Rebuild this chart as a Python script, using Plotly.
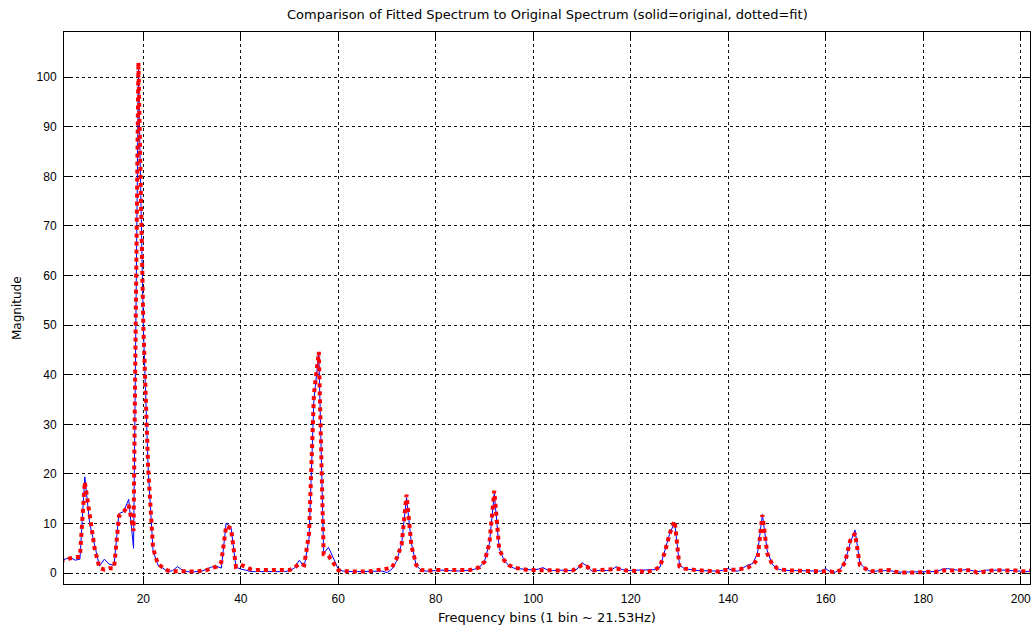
import plotly.graph_objects as go

bins = list(range(3, 203))

original = [
    2.6, 2.8, 3.2, 2.6, 2.8, 19.4, 10, 5.5, 1.4, 2.8,          # 3-12
    1.8, 1.6, 12, 12.4, 14.9, 5, 101.5, 50, 21, 4.5,          # 13-22
    1.6, 1.0, 0.3, 0.5, 1.3, 0.6, 0.3, 0.2, 0.3, 0.4,         # 23-32
    0.8, 1.2, 1.4, 1.0, 10.1, 9.2, 1.2, 0.8, 0.6, 0.3,        # 33-42
    0.3, 0.3, 0.4, 0.3, 0.4, 0.4, 0.3, 0.5, 1.0, 2.6,         # 43-52
    1.2, 7, 35, 44.2, 4, 5.2, 3.0, 0.8, 0.4, 0.3,             # 53-62
    0.3, 0.3, 0.3, 0.3, 0.3, 0.4, 0.4, 0.1, 0.8, 2.5,         # 63-72
    6, 15.2, 6, 1.5, 0.6, 0.4, 0.4, 0.5, 0.6, 0.6,            # 73-82
    0.5, 0.4, 0.4, 0.5, 0.6, 0.8, 1.2, 2.4, 6, 16,            # 83-92
    5, 2.6, 1.5, 1.0, 0.9, 0.8, 0.6, 0.6, 0.8, 1.1,           # 93-102
    0.6, 0.5, 0.6, 0.6, 0.6, 0.5, 0.8, 2.1, 1.4, 0.4,         # 103-112
    0.5, 0.6, 0.5, 0.6, 1.3, 0.8, 0.5, 0.6, 0.6, 0.6,         # 113-122
    0.6, 0.6, 0.7, 1.2, 4.5, 8, 10.2, 1.6, 0.9, 0.7,          # 123-132
    0.6, 0.5, 0.5, 0.5, 0.5, 0.4, 0.6, 0.9, 0.5, 0.4,         # 133-142
    1.0, 1.6, 1.9, 4, 11.8, 4.5, 1.8, 0.9, 0.6, 0.5,          # 143-152
    0.5, 0.5, 0.5, 0.5, 0.5, 0.5, 0.4, 0.9, 0.2, 0.2,         # 153-162
    0.8, 2.5, 6, 8.7, 2, 1.0, 0.4, 0.4, 0.5, 0.5,             # 163-172
    0.5, 0.3, 0.2, 0.2, 0.2, 0.2, 0.3, 0.3, 0.3, 0.3,         # 173-182
    0.4, 0.8, 0.9, 0.7, 0.6, 0.6, 0.7, 0.5, 0.3, 0.4,         # 183-192
    0.6, 0.6, 0.6, 0.7, 0.6, 0.5, 0.5, 0.4, 0.3, 0.4,         # 193-202
]

fitted = [
    2.5, 2.6, 3.0, 3.2, 3.3, 18.4, 12, 5, 1.1, 0.7,           # 3-12
    1.0, 1.0, 11.5, 12.4, 13.7, 8.5, 103, 50, 21, 5,          # 13-22
    1.8, 1.2, 0.5, 0.4, 0.4, 0.4, 0.3, 0.2, 0.3, 0.5,         # 23-32
    0.6, 1.0, 1.3, 2.2, 9.5, 9.0, 1.3, 1.7, 1.2, 0.8,         # 33-42
    0.6, 0.7, 0.6, 0.6, 0.6, 0.6, 0.5, 0.6, 1.1, 1.9,         # 43-52
    1.6, 8, 36, 44.6, 3.8, 3.5, 2.0, 0.6, 0.4, 0.3,           # 53-62
    0.3, 0.3, 0.3, 0.3, 0.4, 0.6, 0.7, 0.9, 1.1, 3.0,         # 63-72
    5.8, 15.8, 5.5, 1.6, 0.6, 0.5, 0.5, 0.6, 0.6, 0.7,        # 73-82
    0.5, 0.5, 0.5, 0.5, 0.6, 0.9, 1.2, 2.3, 6, 16.6,          # 83-92
    5, 2.6, 1.6, 1.1, 0.9, 0.8, 0.6, 0.6, 0.6, 0.6,           # 93-102
    0.6, 0.6, 0.6, 0.6, 0.6, 0.5, 1.0, 1.6, 1.3, 0.5,         # 103-112
    0.6, 0.6, 0.6, 0.6, 0.8, 0.9, 0.5, 0.5, 0.5, 0.4,         # 113-122
    0.1, 0.4, 0.7, 1.3, 4.3, 8, 10.5, 1.3, 0.9, 0.8,          # 123-132
    0.6, 0.5, 0.5, 0.5, 0.4, 0.3, 0.6, 0.6, 0.6, 0.7,         # 133-142
    0.9, 1.1, 1.6, 2.8, 11.7, 4, 1.8, 1.0, 0.7, 0.5,          # 143-152
    0.5, 0.5, 0.5, 0.5, 0.5, 0.5, 0.5, 0.5, 0.3, 0.1,         # 153-162
    0.6, 2.3, 6.5, 8, 1.6, 1.0, 0.3, 0.4, 0.5, 0.5,           # 163-172
    0.6, 0.3, 0.1, 0.1, 0.1, 0.1, 0.1, 0.2, 0.3, 0.1,         # 173-182
    0.3, 0.5, 0.5, 0.5, 0.5, 0.6, 0.6, 0.6, 0.1, 0.3,         # 183-192
    0.5, 0.5, 0.6, 0.5, 0.5, 0.5, 0.5, 0.4, 0.3, 0.5,         # 193-202
]

x_ticks = [20, 40, 60, 80, 100, 120, 140, 160, 180, 200]
y_ticks = [0, 10, 20, 30, 40, 50, 60, 70, 80, 90, 100]

title_text = "Comparison of Fitted Spectrum to Original Spectrum (solid=original, dotted=fit)"
x_label = "Frequency bins (1 bin ~ 21.53Hz)"
y_label = "Magnitude"

FONT = "Liberation Sans, Arial, sans-serif"
LABEL_FONT = "DejaVu Sans, sans-serif"

fig = go.Figure()
fig.add_trace(go.Scatter(x=bins, y=original, mode="lines",
                         line=dict(color="#0000ff", width=1), name="original"))
fig.add_trace(go.Scatter(x=bins, y=fitted, mode="lines",
                         line=dict(color="#ff0000", width=4, dash="4px,4px"), name="fit"))

axis_common = dict(
    showline=True, linecolor="#000000", linewidth=1, mirror="ticks",
    ticks="inside", ticklen=8, tickcolor="#000000", tickwidth=1,
    showgrid=True, gridcolor="#111111", gridwidth=1, griddash="3px,3px",
    zeroline=False, tickfont=dict(family=FONT, size=12, color="#000000"),
)

fig.update_layout(
    width=1034, height=629,
    margin=dict(l=64, r=4, t=32, b=45),
    paper_bgcolor="#ffffff", plot_bgcolor="#ffffff",
    showlegend=False,
    font=dict(family=FONT, size=12, color="#000000"),
    xaxis=dict(range=[3.73, 201.9], tickvals=x_ticks, ticklabelstandoff=4, **axis_common),
    yaxis=dict(range=[-2.2, 109.1], tickvals=y_ticks, ticklabelstandoff=4, **axis_common),
    annotations=[
        dict(text=title_text, xref="paper", yref="paper", x=0.5, y=1, yshift=18,
             showarrow=False, font=dict(family=LABEL_FONT, size=13), xanchor="center", yanchor="middle"),
        dict(text=x_label, xref="paper", yref="paper", x=0.5, y=0, yshift=-33,
             showarrow=False, font=dict(family=LABEL_FONT, size=13), xanchor="center", yanchor="middle"),
        dict(text=y_label, xref="paper", yref="paper", x=0, xshift=-47, y=0.5, textangle=-90,
             showarrow=False, font=dict(family=LABEL_FONT, size=12), xanchor="center", yanchor="middle"),
    ],
)

fig.write_html("out.html")
